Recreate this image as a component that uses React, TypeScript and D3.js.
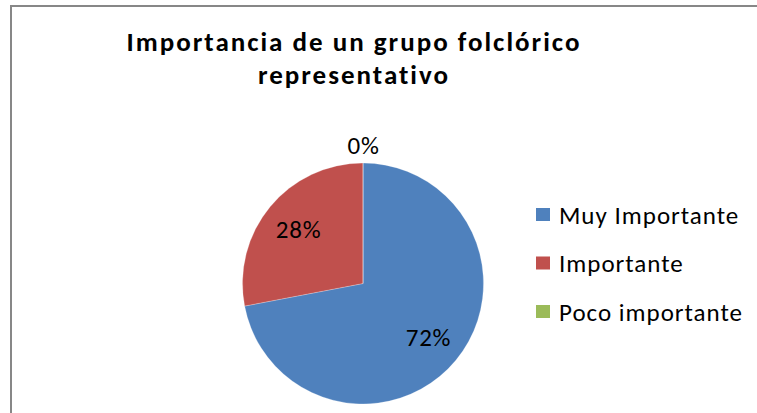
import { useMemo } from "react";
import * as d3 from "d3";

const categories = ["Muy Importante", "Importante", "Poco importante"];
const values = [72, 28, 0];
const percentLabels = ["72%", "28%", "0%"];
const colors = ["#4F81BD", "#C0504D", "#9BBB59"];
const titleLines = ["Importancia de un grupo folclórico", "representativo"];

const W = 757;
const H = 413;
const FONT = "Carlito, Calibri, Lato, sans-serif";

export default function App() {
  const cx = 363;
  const cy = 283.5;
  const r = 120.5;

  const arcs = useMemo(
    () =>
      d3
        .pie<number>()
        .sort(null)
        .value((d) => d)(values),
    []
  );

  const arc = d3.arc<d3.PieArcDatum<number>>().innerRadius(0).outerRadius(r);
  // labels inside the slice, or just outside for empty slices
  const inner = d3.arc<d3.PieArcDatum<number>>().innerRadius(r * 0.7).outerRadius(r * 0.7);
  const outer = d3.arc<d3.PieArcDatum<number>>().innerRadius(r + 18).outerRadius(r + 18);

  const legendY = d3.scalePoint<string>().domain(categories).range([215, 312]);

  return (
    <svg
      width={W}
      height={H}
      style={{ position: "absolute", left: 0, top: 0, display: "block" }}
      fontFamily={FONT}
    >
      <rect x={0} y={0} width={W} height={H} fill="#fff" />
      <rect x={11} y={6} width={W + 20} height={H + 20} fill="none" stroke="#878787" strokeWidth={2} />

      {titleLines.map((t, i) => (
        <text
          key={t}
          x={354}
          y={51 + i * 33}
          textAnchor="middle"
          fontWeight="bold"
          fontSize={27}
          letterSpacing={2}
          fill="#000"
        >
          {t}
        </text>
      ))}

      <g transform={`translate(${cx},${cy})`}>
        {arcs.map((a, i) => (
          <path key={i} d={arc(a) ?? ""} fill={colors[i]} stroke="#fff" strokeWidth={0.4} strokeOpacity={0.6} />
        ))}
        {arcs.map((a, i) => {
          const [x, y] = a.value > 0 ? inner.centroid(a) : outer.centroid(a);
          return (
            <text key={i} x={x + 0.5} y={y} dy="0.35em" textAnchor="middle" fontSize={25} letterSpacing={0.8} fill="#000">
              {percentLabels[i]}
            </text>
          );
        })}
      </g>

      {categories.map((c, i) => {
        const y = legendY(c) ?? 0;
        return (
          <g key={c}>
            <rect x={536} y={y - 7} width={14} height={13} fill={colors[i]} />
            <text x={559} y={y} dy="0.35em" fontSize={25} letterSpacing={1} fill="#000">
              {c}
            </text>
          </g>
        );
      })}
    </svg>
  );
}
